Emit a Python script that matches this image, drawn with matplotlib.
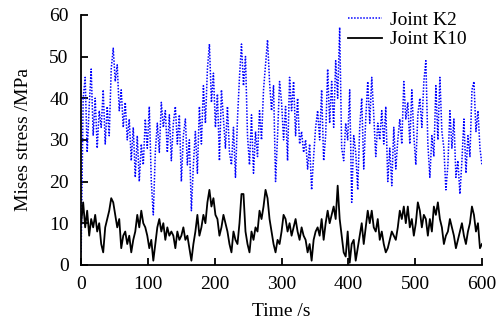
import numpy as np
import matplotlib
matplotlib.use("Agg")
import matplotlib.pyplot as plt

plt.rcParams['font.family'] = ['Liberation Serif', 'DejaVu Serif']

# Mises stress (MPa), sampled every 3 s from 0 to 600 s
k2 = [3, 40, 45, 27, 38, 47, 31, 40, 28, 37, 33, 42, 29, 38, 31, 47, 52, 44, 48, 37,
      42, 33, 39, 30, 35, 25, 33, 21, 31, 20, 29, 24, 35, 28, 38, 20, 12, 27, 34, 27,
      39, 33, 37, 27, 36, 25, 34, 38, 29, 36, 20, 31, 35, 24, 30, 13, 24, 32, 22, 38,
      29, 43, 34, 47, 53, 39, 46, 33, 41, 25, 42, 35, 28, 38, 27, 24, 33, 21, 35, 45,
      53, 43, 50, 31, 24, 36, 22, 32, 26, 37, 30, 42, 48, 54, 44, 37, 43, 20, 31, 44,
      39, 30, 38, 25, 45, 37, 44, 31, 40, 29, 32, 27, 30, 23, 29, 18, 26, 33, 37, 30,
      42, 25, 31, 47, 34, 44, 33, 49, 40, 57, 28, 25, 34, 30, 42, 15, 31, 27, 18, 33,
      40, 23, 35, 44, 34, 45, 36, 26, 34, 30, 37, 29, 38, 20, 28, 19, 33, 23, 30, 35,
      29, 44, 35, 39, 29, 42, 31, 24, 36, 40, 33, 44, 49, 29, 21, 31, 26, 43, 30, 45,
      32, 28, 18, 24, 37, 28, 35, 21, 25, 17, 25, 35, 22, 31, 26, 42, 44, 32, 37, 28,
      24]
k10 = [10, 15, 9, 13, 7, 11, 9, 12, 8, 10, 5, 3, 9, 11, 13, 16, 15, 12, 9, 11,
       4, 7, 8, 5, 7, 3, 6, 8, 12, 9, 13, 10, 9, 7, 4, 6, 1, 5, 9, 11,
       8, 10, 6, 9, 7, 8, 7, 4, 8, 6, 7, 9, 6, 7, 4, 1, 5, 8, 12, 7,
       9, 12, 10, 15, 18, 14, 16, 12, 11, 7, 9, 12, 10, 8, 5, 3, 8, 6, 5, 10,
       17, 17, 8, 5, 3, 8, 6, 9, 8, 13, 11, 14, 18, 16, 11, 8, 5, 3, 6, 5,
       8, 12, 11, 8, 10, 7, 9, 11, 8, 6, 9, 7, 6, 3, 5, 1, 6, 8, 9, 7,
       11, 6, 10, 13, 10, 12, 14, 11, 19, 11, 7, 3, 2, 8, 0.5, 5, 6, 1, 4, 7,
       10, 5, 9, 13, 10, 13, 9, 8, 11, 6, 8, 5, 3, 4, 6, 8, 7, 6, 9, 13,
       11, 14, 10, 14, 9, 11, 7, 10, 15, 13, 9, 12, 11, 7, 11, 8, 14, 12, 15, 11,
       9, 5, 7, 8, 11, 9, 7, 4, 6, 8, 10, 7, 5, 8, 10, 14, 12, 8, 10, 4,
       5]
t_k2 = np.linspace(0, 600, len(k2))
t_k10 = np.linspace(0, 600, len(k10))

fig = plt.figure(figsize=(5.01, 3.23), dpi=100)
ax = fig.add_axes([0.162, 0.180, 0.800, 0.774])

ax.plot(t_k2, k2, color='#0000ff', linestyle=(0, (1, 1)), linewidth=1.1, label='Joint K2')
ax.plot(t_k10, k10, color='black', linestyle='-', linewidth=1.3, label='Joint K10')

ax.set_xlim(0, 600)
ax.set_ylim(0, 60)
ax.set_xticks(range(0, 601, 100))
ax.set_yticks(range(0, 61, 10))
ax.spines['top'].set_visible(False)
ax.spines['right'].set_visible(False)
ax.spines['left'].set_linewidth(1.3)
ax.spines['bottom'].set_linewidth(1.3)
ax.tick_params(direction='in', length=5, width=1.3, labelsize=14)
ax.tick_params(axis='x', pad=8)
ax.tick_params(axis='y', pad=9)
ax.set_xlabel('Time /s', fontsize=14, labelpad=7)
ax.set_ylabel('Mises stress /MPa', fontsize=14, labelpad=12)

fig.legend(loc='upper left', bbox_to_anchor=(0.695, 0.965), frameon=False,
           fontsize=14, handlelength=1.75, handletextpad=0.4, labelspacing=0.1,
           borderpad=0, borderaxespad=0)

fig.savefig('out.png', dpi=100)
